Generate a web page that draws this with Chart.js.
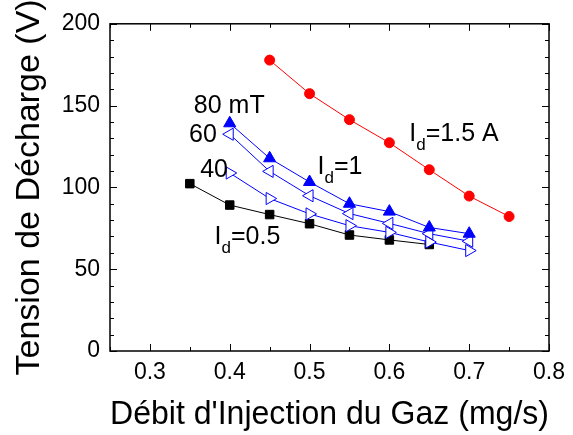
<!DOCTYPE html>
<html>
<head>
<meta charset="utf-8">
<script src="https://cdn.jsdelivr.net/npm/chart.js@4.4.1/dist/chart.umd.min.js"></script>
<style>
  html, body { margin: 0; padding: 0; background: #fff; }
  #wrap { width: 573px; height: 435px; }
</style>
</head>
<body>
<div id="wrap"><canvas id="myChart"></canvas></div>
<script>
// gas flow (mg/s) and discharge voltage (V)
const flow_05 = [0.35, 0.4, 0.45, 0.5, 0.55, 0.6, 0.65];
const volt_05 = [102.3, 89.2, 83.4, 77.8, 70.9, 67.9, 65.1];

const flow_1 = [0.4, 0.45, 0.5, 0.55, 0.6, 0.65, 0.7];
const volt_80mT = [139.2, 117.8, 103.3, 90.0, 85.2, 75.5, 71.7];
const volt_60mT = [132.5, 109.8, 94.9, 84.0, 78.0, 71.7, 67.1];
const volt_40mT = [108.8, 93.2, 83.8, 76.6, 72.5, 66.6, 61.4];

const flow_15 = [0.45, 0.5, 0.55, 0.6, 0.65, 0.7, 0.75];
const volt_15 = [177.8, 157.3, 141.4, 127.3, 110.8, 94.7, 82.2];

const xTicks = [0.3, 0.4, 0.5, 0.6, 0.7, 0.8];
const xMinor = [0.25, 0.35, 0.45, 0.55, 0.65, 0.75];
const yTicks = [0, 50, 100, 150, 200];
const yMinor = [10, 20, 30, 40, 60, 70, 80, 90, 110, 120, 130, 140, 160, 170, 180, 190];

// text written inside the plot: [main, subscript, rest, x, y]
const notes = [
  ["80 mT", "", "", 0.355, 145.2],
  ["60", "", "", 0.349, 127.5],
  ["40", "", "", 0.363, 106.3],
  ["I", "d", "=1", 0.510, 108.4],
  ["I", "d", "=1.5 A", 0.625, 128.5],
  ["I", "d", "=0.5", 0.381, 65.4],
];

const pts = (xs, ys) => xs.map((v, i) => ({ x: v, y: ys[i] }));
const BLUE = "#0000ff";
const FONT = "'Liberation Sans', Arial, sans-serif";

const frameTicks = {
  id: "frameTicks",
  afterDatasetsDraw(chart) {
    const { ctx, chartArea: a, scales: { x, y } } = chart;
    ctx.save();
    ctx.strokeStyle = "#000";
    ctx.lineWidth = 1;
    const tickX = (vals, len) => {
      vals.forEach((v) => {
        const px = Math.round(x.getPixelForValue(v)) + 0.5;
        ctx.beginPath();
        ctx.moveTo(px, a.bottom); ctx.lineTo(px, a.bottom - len);
        ctx.moveTo(px, a.top); ctx.lineTo(px, a.top + len);
        ctx.stroke();
      });
    };
    const tickY = (vals, len) => {
      vals.forEach((v) => {
        const py = Math.round(y.getPixelForValue(v)) + 0.5;
        ctx.beginPath();
        ctx.moveTo(a.left, py); ctx.lineTo(a.left + len, py);
        ctx.moveTo(a.right, py); ctx.lineTo(a.right - len, py);
        ctx.stroke();
      });
    };
    tickX(xTicks, 7);
    tickX(xMinor, 4);
    tickY(yTicks, 7);
    tickY(yMinor, 4);
    ctx.lineWidth = 1.5;
    ctx.strokeRect(a.left, a.top, a.right - a.left, a.bottom - a.top);

    // labels
    ctx.fillStyle = "#000";
    ctx.textBaseline = "alphabetic";
    ctx.textAlign = "left";
    notes.forEach(([main, sub, rest, vx, vy]) => {
      let px = x.getPixelForValue(vx);
      const py = y.getPixelForValue(vy);
      ctx.font = "25px " + FONT;
      ctx.fillText(main, px, py);
      px += ctx.measureText(main).width;
      if (sub) {
        ctx.font = "17px " + FONT;
        ctx.fillText(sub, px, py + 9);
        px += ctx.measureText(sub).width;
        ctx.font = "25px " + FONT;
        ctx.fillText(rest, px, py);
      }
    });
    ctx.restore();
  },
};

const ctx = document.getElementById("myChart");
new Chart(ctx, {
  type: "scatter",
  data: {
    datasets: [
      {
        label: "80 mT",
        data: pts(flow_1, volt_80mT),
        showLine: true,
        borderColor: BLUE,
        backgroundColor: BLUE,
        borderWidth: 1,
        pointStyle: "triangle",
        pointRadius: 7,
        pointBorderWidth: 1,
      },
      {
        label: "60 mT",
        data: pts(flow_1, volt_60mT),
        showLine: true,
        borderColor: BLUE,
        backgroundColor: "#fff",
        borderWidth: 1,
        pointStyle: "triangle",
        pointRotation: 270,
        pointRadius: 7,
        pointBorderWidth: 1,
      },
      {
        label: "40 mT",
        data: pts(flow_1, volt_40mT),
        showLine: true,
        borderColor: BLUE,
        backgroundColor: "#fff",
        borderWidth: 1,
        pointStyle: "triangle",
        pointRotation: 90,
        pointRadius: 7,
        pointBorderWidth: 1,
      },
      {
        label: "Id=0.5",
        data: pts(flow_05, volt_05),
        showLine: true,
        borderColor: "#000",
        backgroundColor: "#000",
        borderWidth: 1,
        pointStyle: "rect",
        pointRadius: 6,
        pointBorderWidth: 1,
      },
      {
        label: "Id=1.5 A",
        data: pts(flow_15, volt_15),
        showLine: true,
        borderColor: "#ff0000",
        backgroundColor: "#ff0000",
        borderWidth: 1,
        pointStyle: "circle",
        pointRadius: 5,
        pointBorderWidth: 1,
      },
    ],
  },
  options: {
    responsive: true,
    maintainAspectRatio: false,
    animation: false,
    layout: { padding: { top: 20, right: 17, left: 0, bottom: 0 } },
    plugins: { legend: { display: false }, tooltip: { enabled: false } },
    scales: {
      x: {
        type: "linear",
        min: 0.25,
        max: 0.8,
        afterBuildTicks: (s) => { s.ticks = xTicks.map((v) => ({ value: v })); },
        afterFit: (s) => { s.height = 84; },
        grid: { display: false, drawTicks: false },
        border: { display: false },
        ticks: {
          padding: 8,
          color: "#000",
          font: { family: FONT, size: 23 },
          callback: (v) => v.toFixed(1),
        },
        title: {
          display: true,
          text: "Débit d'Injection du Gaz (mg/s)",
          color: "#000",
          font: { family: FONT, size: 34, lineHeight: 1.2 },
          padding: { top: 0, bottom: 0 },
        },
      },
      y: {
        type: "linear",
        min: 0,
        max: 200,
        afterBuildTicks: (s) => { s.ticks = yTicks.map((v) => ({ value: v })); },
        afterFit: (s) => { s.width = 110; },
        grid: { display: false, drawTicks: false },
        border: { display: false },
        ticks: {
          padding: 10,
          color: "#000",
          font: { family: FONT, size: 23 },
        },
        title: {
          display: true,
          text: "Tension de Décharge (V)",
          color: "#000",
          font: { family: FONT, size: 34, lineHeight: 1.2 },
          padding: { top: 9, bottom: 0 },
        },
      },
    },
  },
  plugins: [frameTicks],
});
</script>
</body>
</html>
